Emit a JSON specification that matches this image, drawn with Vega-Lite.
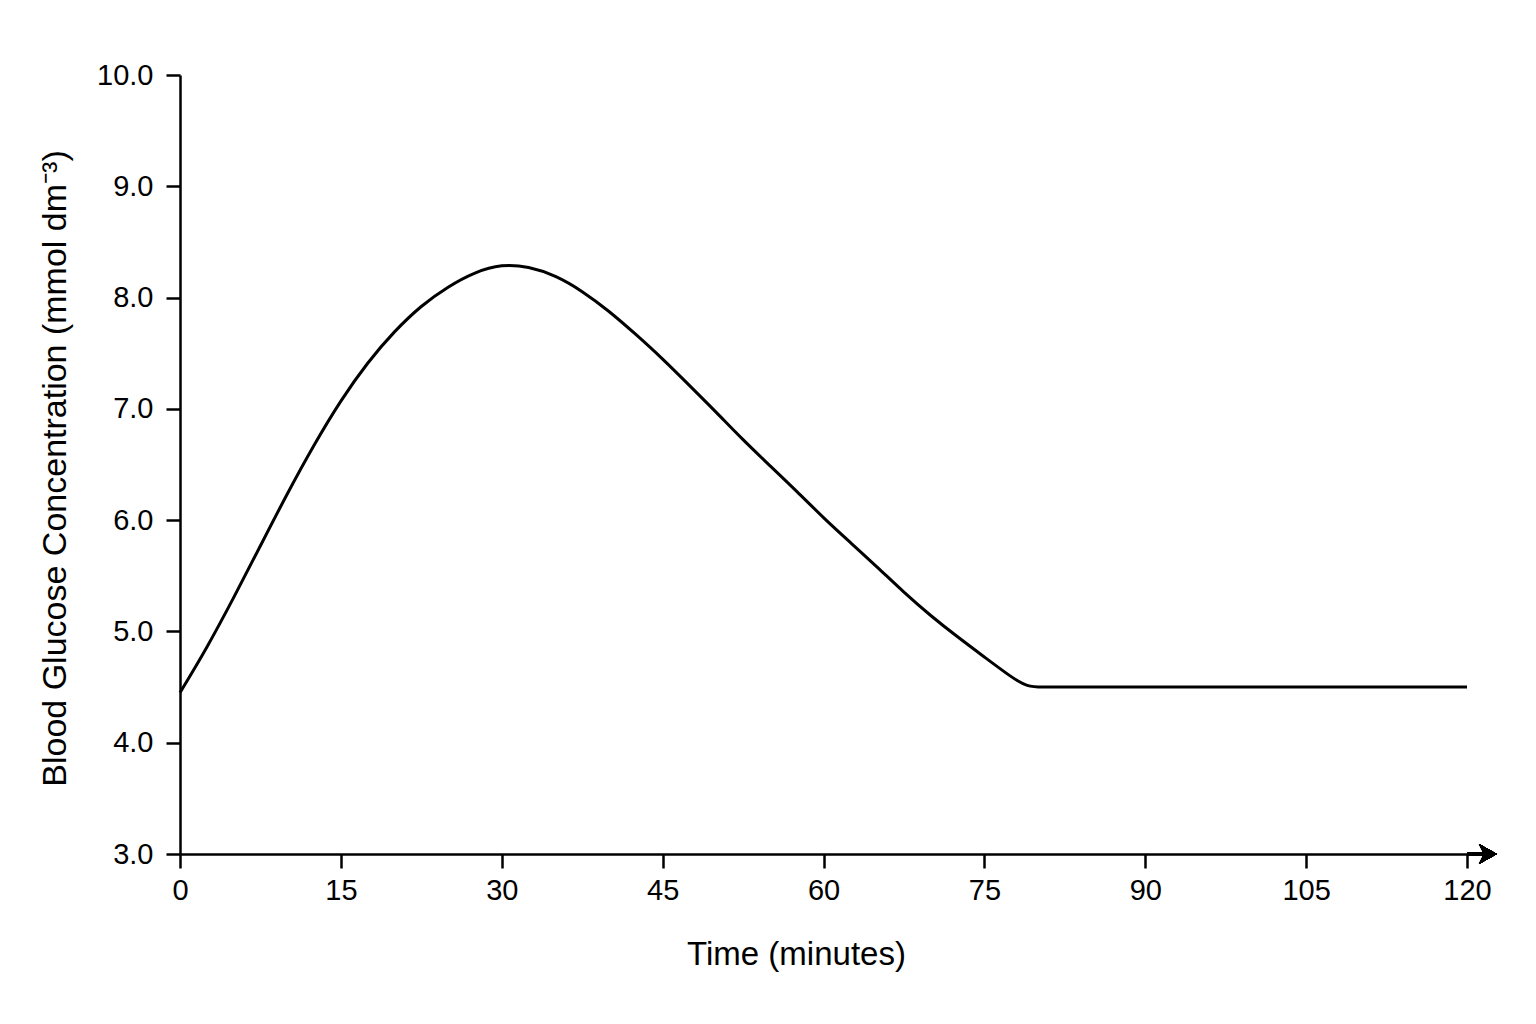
{
  "$schema": "https://vega.github.io/schema/vega-lite/v6.json",
  "width": 1287,
  "height": 779,
  "autosize": {"type": "none"},
  "padding": {"left": 180, "top": 75, "right": 69, "bottom": 170},
  "background": "white",
  "config": {
    "view": {"stroke": null},
    "font": "Liberation Sans",
    "axis": {
      "grid": false,
      "domainColor": "black",
      "domainWidth": 2.5,
      "tickColor": "black",
      "tickWidth": 2.5,
      "tickSize": 14,
      "labelColor": "black",
      "labelFont": "Liberation Sans",
      "labelFontSize": 29,
      "labelFlush": false,
      "labelOverlap": false,
      "titleColor": "black",
      "titleFont": "Liberation Sans",
      "titleFontSize": 33,
      "titleFontWeight": "normal"
    }
  },
  "data": {
    "values": [
      {"time": 0, "glucose": 4.45},
      {"time": 2.5, "glucose": 4.85},
      {"time": 5, "glucose": 5.3},
      {"time": 7.5, "glucose": 5.77},
      {"time": 10, "glucose": 6.24},
      {"time": 12.5, "glucose": 6.68},
      {"time": 15, "glucose": 7.08},
      {"time": 17.5, "glucose": 7.42},
      {"time": 20, "glucose": 7.7},
      {"time": 22.5, "glucose": 7.93},
      {"time": 25, "glucose": 8.1},
      {"time": 27.5, "glucose": 8.23},
      {"time": 30, "glucose": 8.3},
      {"time": 32.5, "glucose": 8.28},
      {"time": 35, "glucose": 8.2},
      {"time": 37.5, "glucose": 8.06},
      {"time": 40, "glucose": 7.88},
      {"time": 42.5, "glucose": 7.67},
      {"time": 45, "glucose": 7.45},
      {"time": 47.5, "glucose": 7.21},
      {"time": 50, "glucose": 6.97},
      {"time": 52.5, "glucose": 6.72},
      {"time": 55, "glucose": 6.49},
      {"time": 57.5, "glucose": 6.26},
      {"time": 60, "glucose": 6.02},
      {"time": 62.5, "glucose": 5.8},
      {"time": 65, "glucose": 5.58},
      {"time": 67.5, "glucose": 5.35},
      {"time": 70, "glucose": 5.14},
      {"time": 72.5, "glucose": 4.95},
      {"time": 75, "glucose": 4.77},
      {"time": 77.5, "glucose": 4.59},
      {"time": 79, "glucose": 4.5},
      {"time": 80.5, "glucose": 4.5},
      {"time": 82, "glucose": 4.5},
      {"time": 120, "glucose": 4.5}
    ]
  },
  "layer": [
    {
      "mark": {"type": "line", "interpolate": "basis", "color": "black", "strokeWidth": 3},
      "encoding": {
        "x": {
          "field": "time",
          "type": "quantitative",
          "scale": {"domain": [0, 120], "nice": false, "zero": false},
          "axis": {
            "values": [0, 15, 30, 45, 60, 75, 90, 105, 120],
            "format": "d",
            "labelPadding": 8,
            "title": "Time (minutes)",
            "titleX": 616,
            "titlePadding": 33
          }
        },
        "y": {
          "field": "glucose",
          "type": "quantitative",
          "scale": {"domain": [3, 10], "nice": false, "zero": false},
          "axis": {
            "values": [3, 4, 5, 6, 7, 8, 9, 10],
            "format": ".1f",
            "labelPadding": 13,
            "title": "Blood Glucose Concentration (mmol dm⁻³)",
            "titleFontSize": 34,
            "titleY": 393,
            "titlePadding": 24
          }
        }
      }
    },
    {
      "mark": {"type": "rule", "clip": false, "color": "black", "strokeWidth": 2.5},
      "encoding": {
        "x": {"datum": 120},
        "x2": {"datum": 121.6},
        "y": {"datum": 3}
      }
    },
    {
      "mark": {
        "type": "point",
        "shape": "M1,0L-1,-1.1L-0.45,0L-1,1.1Z",
        "filled": true,
        "color": "black",
        "opacity": 1,
        "size": 324,
        "clip": false
      },
      "encoding": {
        "x": {"datum": 121.95},
        "y": {"datum": 3}
      }
    }
  ]
}
